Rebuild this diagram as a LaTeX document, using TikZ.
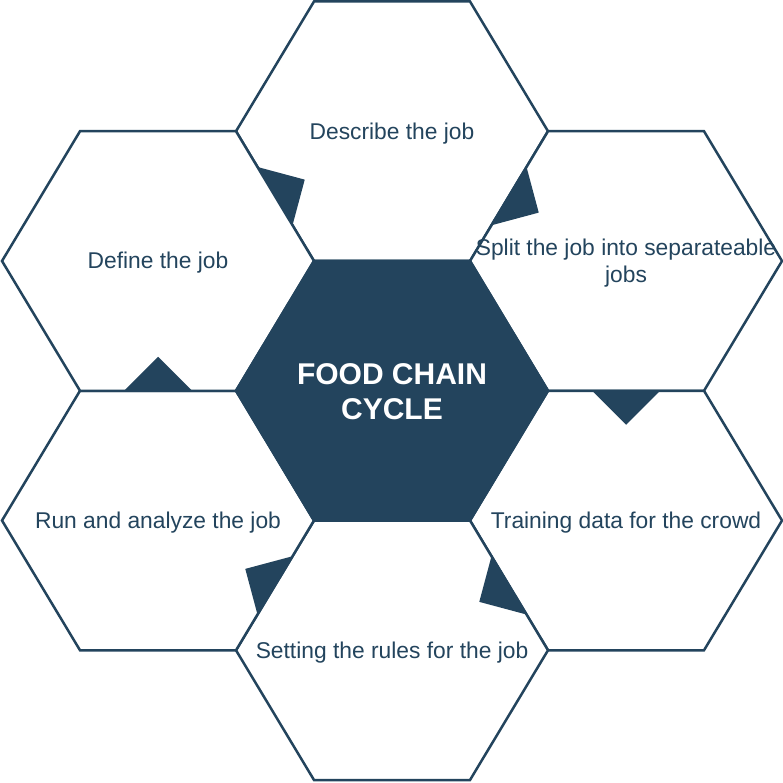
\documentclass[tikz,border=0pt]{standalone}
\usepackage{fontspec}
\setmainfont{Liberation Sans}
\usetikzlibrary{calc}
\definecolor{navy}{HTML}{23445D}
\tikzset{
  hexline/.style={draw=navy, line width=2.5pt, line join=miter},
  cellhex/.style={hexline, fill=white},
  corehex/.style={hexline, fill=navy},
  celltext/.style={text=navy, font=\fontsize{22.8}{27.4}\selectfont, align=center, inner sep=0pt, yshift=-2pt},
  coretext/.style={text=white, font=\bfseries\fontsize{30}{35.5}\selectfont, align=center, inner sep=0pt, yshift=-1pt},
  flowmark/.style={fill=navy, draw=none},
}
% hexagon of half width 156 and half height 129.75 around a centre
\newcommand{\hexcell}[2]{%
  \draw[#1] (#2) ++(-156,0) -- ++(78,-129.75) -- ++(156,0) -- ++(78,129.75)
    -- ++(-78,129.75) -- ++(-156,0) -- cycle;}
% right-angled marker on the shared edge #1--#2, pointing into cell #3
\newcommand{\flowarrow}[3]{%
  \coordinate (fm) at ($(#1)!0.5!(#2)$);
  \fill[flowmark] ($(fm)!34pt!(#1)$) -- ($(fm)!34pt!(#3)$) -- ($(fm)!34pt!(#2)$) -- cycle;}
\begin{document}
\begin{tikzpicture}[x=1pt, y=-1pt]
  \useasboundingbox (0,0) rectangle (783,783);

  % cell centres
  \coordinate (cCore) at (392,390.75);
  \coordinate (cTop)  at (392,131.25);
  \coordinate (cRT)   at (626,261);
  \coordinate (cRB)   at (626,520.5);
  \coordinate (cBot)  at (392,650.25);
  \coordinate (cLB)   at (158,520.5);
  \coordinate (cLT)   at (158,261);

  % outer ring and core
  \hexcell{cellhex}{cTop}
  \hexcell{cellhex}{cRT}
  \hexcell{cellhex}{cRB}
  \hexcell{cellhex}{cBot}
  \hexcell{cellhex}{cLB}
  \hexcell{cellhex}{cLT}
  \hexcell{corehex}{cCore}

  % corners bounding the shared edges
  \coordinate (kTL)  at ($(cCore)+(-78,-129.75)$);
  \coordinate (kTR)  at ($(cCore)+(78,-129.75)$);
  \coordinate (kR)   at ($(cCore)+(156,0)$);
  \coordinate (kBR)  at ($(cCore)+(78,129.75)$);
  \coordinate (kBL)  at ($(cCore)+(-78,129.75)$);
  \coordinate (kL)   at ($(cCore)+(-156,0)$);
  \coordinate (tL)   at ($(cTop)+(-156,0)$);
  \coordinate (tR)   at ($(cTop)+(156,0)$);
  \coordinate (rtBR) at ($(cRT)+(78,129.75)$);
  \coordinate (bR)   at ($(cBot)+(156,0)$);
  \coordinate (bL)   at ($(cBot)+(-156,0)$);
  \coordinate (ltBL) at ($(cLT)+(-78,129.75)$);

  % labels
  \node[coretext] (core) at (cCore) {FOOD CHAIN\\CYCLE};
  \node[celltext] (describe) at (cTop) {Describe the job};
  \node[celltext] (split) at (cRT) {Split the job into separateable\\jobs};
  \node[celltext] (training) at (cRB) {Training data for the crowd};
  \node[celltext] (rules) at (cBot) {Setting the rules for the job};
  \node[celltext] (run) at (cLB) {Run and analyze the job};
  \node[celltext] (define) at (cLT) {Define the job};

  % cycle markers
  \flowarrow{tL}{kTL}{cTop}
  \flowarrow{tR}{kTR}{cRT}
  \flowarrow{kR}{rtBR}{cRB}
  \flowarrow{kBR}{bR}{cBot}
  \flowarrow{kBL}{bL}{cLB}
  \flowarrow{kL}{ltBL}{cLT}
\end{tikzpicture}
\end{document}
